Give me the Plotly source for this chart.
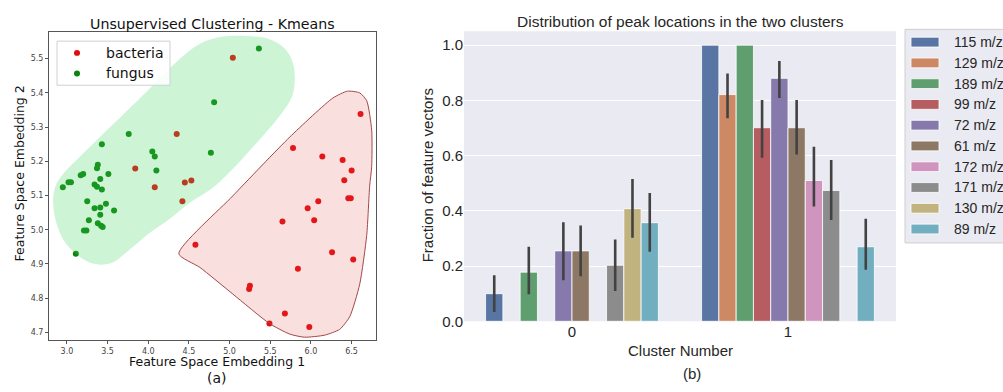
import plotly.graph_objects as go

W, H = 1003, 392

# ---------------- Panel (a) data ----------------
fungus_x = [5.36, 4.81, 4.77, 3.76, 3.43, 4.05, 4.08, 4.10, 3.38, 3.37, 3.51, 3.20, 3.17, 3.41,
            3.05, 3.02, 2.95, 3.34, 3.37, 3.43, 3.25, 3.48, 3.34, 3.41, 3.58, 3.41, 3.27, 3.38,
            3.42, 3.44, 3.21, 3.24, 3.11]
fungus_y = [5.530, 5.373, 5.225, 5.280, 5.250, 5.229, 5.214, 5.173, 5.190, 5.180, 5.163, 5.163,
            5.159, 5.148, 5.139, 5.139, 5.124, 5.132, 5.126, 5.118, 5.083, 5.076, 5.063, 5.065,
            5.056, 5.044, 5.028, 5.019, 5.012, 5.008, 4.998, 4.998, 4.930]
bacteria_x = [5.04, 4.35, 3.84, 4.45, 4.53, 4.08, 4.42, 6.61, 5.78, 6.14, 6.39, 6.50, 6.41, 6.46,
              6.49, 6.09, 5.96, 6.04, 5.65, 4.58, 6.26, 6.52, 5.84, 5.25, 5.24, 5.68, 5.49, 5.98]
bacteria_y = [5.503, 5.280, 5.179, 5.138, 5.144, 5.124, 5.083, 5.338, 5.239, 5.214, 5.204, 5.173,
              5.145, 5.092, 5.092, 5.083, 5.063, 5.028, 5.024, 4.956, 4.934, 4.913, 4.886, 4.836,
              4.827, 4.755, 4.726, 4.716]

green_region_x = [5.21, 5.49, 5.68, 5.78, 5.80, 5.76, 5.62, 5.31, 4.82, 4.51, 4.27, 3.98, 3.74,
                  3.53, 3.28, 3.00, 2.88, 2.83, 2.86, 2.95, 3.16, 3.90, 4.39, 4.63, 4.88, 5.21]
green_region_y = [5.566, 5.557, 5.529, 5.486, 5.428, 5.385, 5.334, 5.248, 5.128, 5.079, 5.033,
                  4.984, 4.936, 4.901, 4.904, 4.956, 5.013, 5.079, 5.128, 5.162, 5.213, 5.385,
                  5.500, 5.543, 5.563, 5.566]
red_region_x = [4.376, 5.04, 5.74, 6.27, 6.45, 6.60, 6.686, 6.747, 6.747, 6.722, 6.686, 6.60,
                6.477, 6.354, 6.17, 5.92, 5.74, 5.49, 5.04, 4.634, 4.376]
red_region_y = [4.930, 5.099, 5.271, 5.385, 5.405, 5.400, 5.377, 5.291, 5.185, 5.128, 4.984,
                4.841, 4.746, 4.709, 4.692, 4.686, 4.695, 4.726, 4.812, 4.890, 4.930]

x1_ticks = [3.0, 3.5, 4.0, 4.5, 5.0, 5.5, 6.0, 6.5]
y1_ticks = [4.7, 4.8, 4.9, 5.0, 5.1, 5.2, 5.3, 5.4, 5.5]
legend_a = ["bacteria", "fungus"]

# ---------------- Panel (b) data ----------------
clusters = [0, 1]
peaks = ["115 m/z", "129 m/z", "189 m/z", "99 m/z", "72 m/z", "61 m/z",
         "172 m/z", "171 m/z", "130 m/z", "89 m/z"]
colors = ["#5875A4", "#CC8963", "#5F9E6E", "#B55D60", "#857AAB", "#8D7866",
          "#D095BF", "#8C8C8C", "#C1B37F", "#71AEC0"]
cluster0_frac = [0.100, None, 0.178, None, 0.255, 0.255, None, 0.203, 0.408, 0.357]
cluster0_lo = [0.034, None, 0.098, None, 0.149, 0.163, None, 0.110, 0.303, 0.252]
cluster0_hi = [0.167, None, 0.270, None, 0.359, 0.347, None, 0.296, 0.515, 0.465]
cluster1_frac = [1.000, 0.821, 1.000, 0.701, 0.880, 0.701, 0.510, 0.474, None, 0.270]
cluster1_lo = [1.000, 0.735, 1.000, 0.592, 0.809, 0.604, 0.416, 0.367, None, 0.187]
cluster1_hi = [1.000, 0.897, 1.000, 0.801, 0.943, 0.801, 0.632, 0.584, None, 0.371]
y2_ticks = [0.0, 0.2, 0.4, 0.6, 0.8, 1.0]

FA = "DejaVu Sans"
FB = "Liberation Sans, Arial"

fig = go.Figure()

# scatter points
fig.add_trace(go.Scatter(x=bacteria_x, y=bacteria_y, mode="markers", name="bacteria",
                         marker=dict(color="#e30b0b", size=6), xaxis="x", yaxis="y",
                         showlegend=False, hoverinfo="skip"))
fig.add_trace(go.Scatter(x=fungus_x, y=fungus_y, mode="markers", name="fungus",
                         marker=dict(color="#0b830b", size=6), xaxis="x", yaxis="y",
                         showlegend=False, hoverinfo="skip"))
# translucent regions drawn above the points
fig.add_trace(go.Scatter(x=green_region_x, y=green_region_y, mode="lines", fill="toself",
                         fillcolor="rgba(60,210,90,0.25)",
                         line=dict(width=0, shape="spline", smoothing=1, color="rgba(0,0,0,0)"),
                         xaxis="x", yaxis="y", showlegend=False, hoverinfo="skip"))
fig.add_trace(go.Scatter(x=red_region_x, y=red_region_y, mode="lines", fill="toself",
                         fillcolor="rgba(230,80,80,0.18)",
                         line=dict(width=1, shape="spline", smoothing=0.6, color="#a04848"),
                         xaxis="x", yaxis="y", showlegend=False, hoverinfo="skip"))

# bars
for i, name in enumerate(peaks):
    vals = [cluster0_frac[i], cluster1_frac[i]]
    los = [cluster0_lo[i], cluster1_lo[i]]
    his = [cluster0_hi[i], cluster1_hi[i]]
    up = [None if v is None else h - v for v, h in zip(vals, his)]
    dn = [None if v is None else v - l for v, l in zip(vals, los)]
    fig.add_trace(go.Bar(x=clusters, y=vals, name=name, marker=dict(color=colors[i],
                         line=dict(color="white", width=0.8)),
                         error_y=dict(type="data", symmetric=False, array=up, arrayminus=dn,
                                      color="#424242", thickness=2.6, width=0),
                         xaxis="x2", yaxis="y2", showlegend=False, hoverinfo="skip"))

shapes = []
annotations = []


def P(x, y):
    return x / W, 1 - y / H


# panel (b) background
shapes.append(dict(type="rect", xref="x2 domain", yref="y2 domain", x0=0, x1=1, y0=0, y1=1,
                   fillcolor="#EAEAF2", line=dict(width=0), layer="below"))

# legend (a)
x0, y0 = P(57, 42)
x1, y1 = P(170, 87)
shapes.append(dict(type="rect", xref="paper", yref="paper", x0=x0, x1=x1, y0=y1, y1=y0,
                   fillcolor="rgba(255,255,255,0.85)", line=dict(color="#d0d0d0", width=1)))
for k, (lab, col, yy) in enumerate(zip(legend_a, ["#e30b0b", "#0b830b"], [54, 75])):
    cx0, cy0 = P(74, yy - 3)
    cx1, cy1 = P(80, yy + 3)
    shapes.append(dict(type="circle", xref="paper", yref="paper", x0=cx0, x1=cx1, y0=cy1, y1=cy0,
                       fillcolor=col, line=dict(width=0)))
    tx, ty = P(104, yy)
    annotations.append(dict(text=lab, x=tx, y=ty, xref="paper", yref="paper", xanchor="left",
                            yanchor="middle", showarrow=False, font=dict(family=FA, size=14, color="#111")))

# legend (b)
x0, y0 = P(905, 30)
x1, y1 = P(1012, 248)
shapes.append(dict(type="rect", xref="paper", yref="paper", x0=x0, x1=x1, y0=y1, y1=y0,
                   fillcolor="#EAEAF2", line=dict(color="#cfcfcf", width=1)))
for i, name in enumerate(peaks):
    yc = 43 + 21.2 * i
    sx0, sy0 = P(911, yc - 5)
    sx1, sy1 = P(939, yc + 5)
    shapes.append(dict(type="rect", xref="paper", yref="paper", x0=sx0, x1=sx1, y0=sy1, y1=sy0,
                       fillcolor=colors[i], line=dict(width=0.8, color="white")))
    tx, ty = P(952, yc)
    annotations.append(dict(text=name, x=tx, y=ty, xref="paper", yref="paper", xanchor="left",
                            yanchor="middle", showarrow=False, font=dict(family=FB, size=14, color="#262626")))

# titles and labels
def ann(text, x, y, size, family, color, angle=0):
    ax, ay = P(x, y)
    annotations.append(dict(text=text, x=ax, y=ay, xref="paper", yref="paper", xanchor="center",
                            yanchor="middle", showarrow=False, textangle=angle,
                            font=dict(family=family, size=size, color=color)))

ann("Unsupervised Clustering - Kmeans", 212, 24, 14.2, FA, "#111")
ann("Feature Space Embedding 1", 217, 369.5, 12.5, FA, "#111")
ann("Feature Space Embedding 2", 19, 177, 12.5, FA, "#111", -90)
ann("(a)", 217, 386, 14, FA, "#111")
ann("Distribution of peak locations in the two clusters", 680, 22, 15.5, FB, "#262626")
ann("Cluster Number", 680, 358, 15, FB, "#262626")
ann("Fraction of feature vectors", 427, 179, 15, FB, "#262626", -90)
ann("(b)", 692, 381, 15, FB, "#262626")

fig.update_layout(
    width=W, height=H, margin=dict(l=0, r=0, t=0, b=0),
    paper_bgcolor="white", plot_bgcolor="white",
    barmode="group", bargap=0.2, bargroupgap=0,
    shapes=shapes, annotations=annotations, showlegend=False,
    xaxis=dict(domain=[49 / W, 376 / W], range=[2.78, 6.80], tickvals=x1_ticks,
               tickformat=".1f", showline=True, mirror=True, linecolor="#555", linewidth=1,
               ticks="outside", ticklen=3, tickcolor="#555", showgrid=False, zeroline=False,
               tickfont=dict(family=FA, size=8, color="#444"), anchor="y"),
    yaxis=dict(domain=[1 - 347 / H, 1 - 33 / H], range=[4.678, 5.577], tickvals=y1_ticks,
               tickformat=".1f", showline=True, mirror=True, linecolor="#555", linewidth=1,
               ticks="outside", ticklen=3, tickcolor="#555", showgrid=False, zeroline=False,
               tickfont=dict(family=FA, size=8, color="#444"), anchor="x"),
    xaxis2=dict(domain=[464 / W, 896 / W], range=[-0.5, 1.5], tickvals=clusters,
                ticktext=[str(c) for c in clusters], showgrid=False, zeroline=False,
                showline=False, ticks="", tickfont=dict(family=FB, size=15, color="#262626"),
                anchor="y2"),
    yaxis2=dict(domain=[1 - 328 / H, 1 - 32 / H], range=[0, 1.05], tickvals=y2_ticks,
                tickformat=".1f", showgrid=True, gridcolor="white", gridwidth=1.2,
                zeroline=False, showline=False, ticks="",
                tickfont=dict(family=FB, size=15, color="#262626"), anchor="x2"),
)

fig.write_html("out.html")
